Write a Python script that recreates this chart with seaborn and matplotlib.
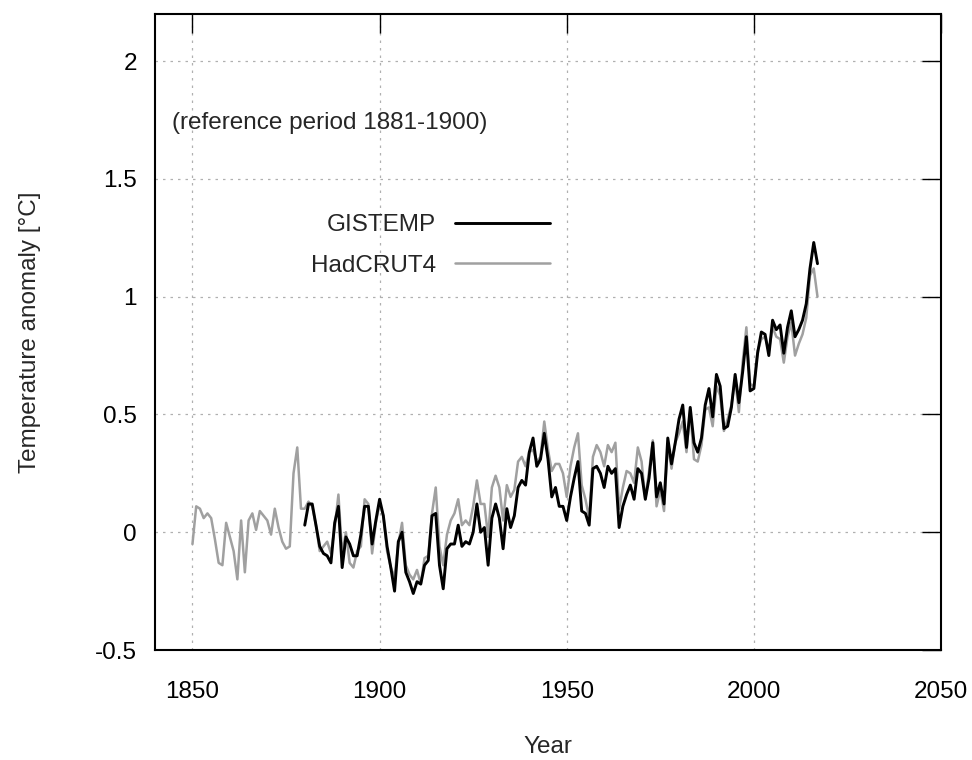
import seaborn as sns
import pandas as pd
import matplotlib
matplotlib.use("Agg")
import matplotlib.pyplot as plt

# global temperature anomaly, reference period 1881-1900
had_years = list(range(1850, 2018))
had_vals = [
    -0.05, 0.11, 0.10, 0.06, 0.08, 0.06, -0.03, -0.13, -0.14, 0.04,
    -0.02, -0.08, -0.20, 0.05, -0.17, 0.05, 0.08, 0.01, 0.09, 0.07,
    0.05, -0.01, 0.10, 0.02, -0.04, -0.07, -0.06, 0.25, 0.36, 0.10,
    0.10, 0.13, 0.11, 0.03, -0.08, -0.06, -0.04, -0.09, 0.02, 0.16,
    -0.09, 0.00, -0.13, -0.15, -0.08, -0.06, 0.14, 0.12, -0.09, 0.04,
    0.12, 0.07, -0.08, -0.15, -0.19, -0.05, 0.04, -0.14, -0.18, -0.20,
    -0.16, -0.22, -0.11, -0.10, 0.08, 0.19, -0.06, -0.14, -0.01, 0.05,
    0.08, 0.14, 0.03, 0.05, 0.03, 0.11, 0.22, 0.12, 0.12, -0.02,
    0.19, 0.24, 0.19, 0.05, 0.20, 0.15, 0.18, 0.30, 0.32, 0.28,
    0.34, 0.35, 0.30, 0.32, 0.47, 0.35, 0.26, 0.29, 0.29, 0.25,
    0.15, 0.28, 0.36, 0.42, 0.20, 0.14, 0.06, 0.32, 0.37, 0.34,
    0.28, 0.37, 0.34, 0.38, 0.10, 0.19, 0.26, 0.25, 0.21, 0.36,
    0.30, 0.14, 0.26, 0.39, 0.11, 0.18, 0.09, 0.37, 0.27, 0.38,
    0.42, 0.47, 0.34, 0.52, 0.31, 0.30, 0.37, 0.52, 0.53, 0.45,
    0.62, 0.58, 0.43, 0.48, 0.54, 0.65, 0.51, 0.72, 0.87, 0.63,
    0.62, 0.77, 0.82, 0.83, 0.77, 0.87, 0.83, 0.82, 0.72, 0.83,
    0.89, 0.75, 0.80, 0.84, 0.91, 1.09, 1.12, 1.00,
]

gis_years = list(range(1880, 2018))
gis_vals = [
    0.03, 0.12, 0.12, 0.03, -0.06, -0.09, -0.10, -0.13, 0.04, 0.11,
    -0.15, -0.02, -0.05, -0.10, -0.10, -0.01, 0.11, 0.11, -0.05, 0.05,
    0.14, 0.07, -0.06, -0.15, -0.25, -0.04, 0.00, -0.17, -0.21, -0.26,
    -0.21, -0.22, -0.14, -0.12, 0.07, 0.08, -0.14, -0.24, -0.07, -0.05,
    -0.05, 0.03, -0.06, -0.04, -0.05, 0.00, 0.12, 0.00, 0.02, -0.14,
    0.06, 0.12, 0.06, -0.07, 0.10, 0.02, 0.07, 0.19, 0.22, 0.20,
    0.34, 0.40, 0.28, 0.31, 0.42, 0.31, 0.15, 0.19, 0.11, 0.11,
    0.05, 0.15, 0.23, 0.30, 0.09, 0.08, 0.03, 0.27, 0.28, 0.25,
    0.19, 0.28, 0.25, 0.27, 0.02, 0.11, 0.16, 0.20, 0.14, 0.27,
    0.25, 0.14, 0.23, 0.38, 0.15, 0.21, 0.12, 0.40, 0.29, 0.38,
    0.48, 0.54, 0.36, 0.53, 0.38, 0.34, 0.40, 0.54, 0.61, 0.49,
    0.67, 0.62, 0.44, 0.45, 0.53, 0.67, 0.55, 0.68, 0.83, 0.60,
    0.61, 0.76, 0.85, 0.84, 0.75, 0.90, 0.86, 0.88, 0.76, 0.87,
    0.94, 0.83, 0.86, 0.90, 0.97, 1.12, 1.23, 1.14,
]

x_ticks = [1850, 1900, 1950, 2000, 2050]
y_ticks = [-0.5, 0, 0.5, 1, 1.5, 2]
y_tick_labels = ["-0.5", "0", "0.5", "1", "1.5", "2"]

df_had = pd.DataFrame({"year": had_years, "anomaly": had_vals})
df_gis = pd.DataFrame({"year": gis_years, "anomaly": gis_vals})

sns.set_style("white")
plt.rcParams["font.family"] = ["Liberation Sans", "DejaVu Sans"]
fs = 17.5

fig = plt.figure(figsize=(9.72, 7.6), dpi=100)
ax = fig.add_axes([0.1595, 0.1447, 0.8086, 0.8369])

sns.lineplot(df_had, x="year", y="anomaly", color="#a0a0a0", linewidth=1.8,
             label="HadCRUT4", ax=ax)
sns.lineplot(df_gis, x="year", y="anomaly", color="black", linewidth=2.1,
             label="GISTEMP", ax=ax)

ax.set_xlim(1840, 2050)
ax.set_ylim(-0.5, 2.2)
ax.set_xticks(x_ticks)
ax.set_yticks(y_ticks)
ax.set_yticklabels(y_tick_labels)

ax.grid(True, color="#b0b0b0", linestyle=(0, (2, 4)), linewidth=0.9)
for s in ax.spines.values():
    s.set_color("black")
    s.set_linewidth(1.5)
ax.tick_params(direction="in", top=True, right=True, length=14, width=1,
               labelsize=fs, colors="black")
ax.tick_params(axis="x", pad=22)
ax.tick_params(axis="y", pad=13)

ax.set_xlabel("Year", fontsize=fs)
ax.set_ylabel("Temperature anomaly [°C]", fontsize=fs)
ax.xaxis.set_label_coords(0.5, -0.135)
ax.yaxis.set_label_coords(-0.145, 0.5)

ax.text(0.0216, 0.8286, "(reference period 1881-1900)", transform=ax.transAxes,
        fontsize=fs, va="center", ha="left")

h, l = ax.get_legend_handles_labels()
ax.legend(h[::-1], l[::-1], loc="center right", bbox_to_anchor=(0.5025, 0.636),
          frameon=False, markerfirst=False, fontsize=fs, handlelength=3.9,
          handletextpad=0.8, labelspacing=0.75, borderpad=0, borderaxespad=0)

fig.savefig("out.png", dpi=100)
